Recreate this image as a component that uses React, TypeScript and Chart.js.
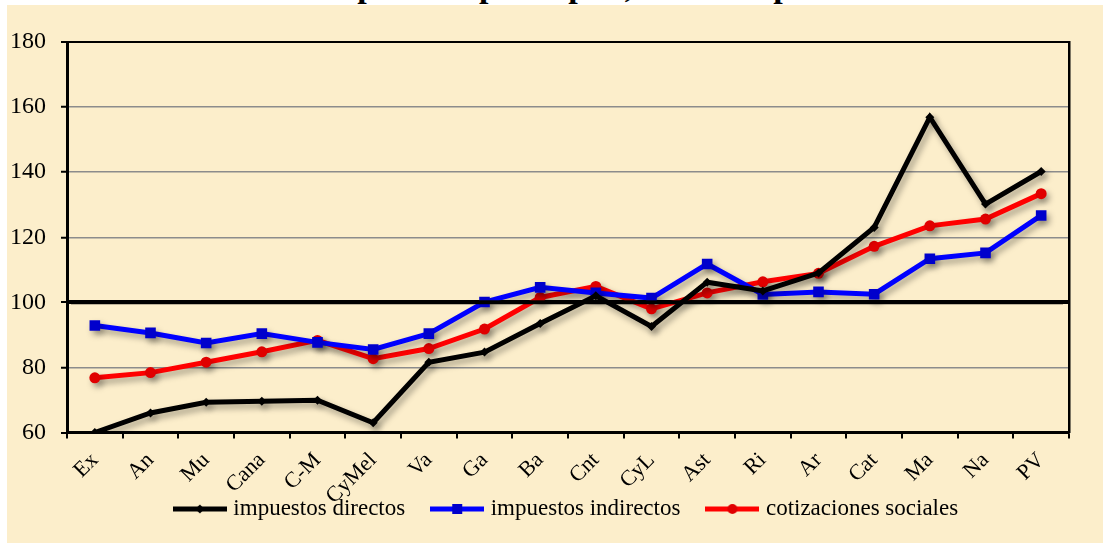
import { useEffect, useRef } from "react";
import { Chart, registerables } from "chart.js";
Chart.register(...registerables);

const categories = ["Ex", "An", "Mu", "Cana", "C-M", "CyMel", "Va", "Ga", "Ba", "Cnt", "CyL", "Ast", "Ri", "Ar", "Cat", "Ma", "Na", "PV"];
const impuestosDirectos = [60, 66, 69.3, 69.6, 69.9, 63, 81.6, 84.7, 93.5, 102, 92.6, 106.2, 103.5, 109, 123, 156.9, 130.2, 140.2];
const impuestosIndirectos = [92.9, 90.6, 87.5, 90.4, 87.7, 85.5, 90.4, 100.1, 104.6, 102.9, 101.3, 111.8, 102.4, 103.2, 102.5, 113.4, 115.2, 126.7];
const cotizacionesSociales = [76.8, 78.4, 81.6, 84.8, 88.3, 82.7, 85.8, 91.8, 101.5, 104.9, 98, 102.9, 106.3, 108.9, 117.2, 123.5, 125.6, 133.4];
const seriesNames = ["impuestos directos", "impuestos indirectos", "cotizaciones sociales"];
const yMin = 60;
const yMax = 180;
const yStep = 20;
const referenceValue = 100;
const titleText = "Recaudación impositiva per cápita, índice España = 100";

const FONT = "'Liberation Serif', 'Times New Roman', serif";

function legendImage(lineColor: string, markerColor: string, marker: string) {
  const c = document.createElement("canvas");
  c.width = 54;
  c.height = 14;
  const g = c.getContext("2d")!;
  g.strokeStyle = lineColor;
  g.lineWidth = 5;
  g.beginPath();
  g.moveTo(0, 7);
  g.lineTo(54, 7);
  g.stroke();
  g.fillStyle = markerColor;
  if (marker === "rect") {
    g.fillRect(27 - 5, 7 - 5, 10, 10);
  } else if (marker === "circle") {
    g.beginPath();
    g.arc(27, 7, 5, 0, Math.PI * 2);
    g.fill();
  } else {
    g.beginPath();
    g.moveTo(27, 7 - 4.5);
    g.lineTo(27 + 4.5, 7);
    g.lineTo(27, 7 + 4.5);
    g.lineTo(27 - 4.5, 7);
    g.closePath();
    g.fill();
  }
  return c;
}

const noClip = (scale: any) => {
  scale._computeLabelArea = () => null;
};

export default function App() {
  const ref = useRef<HTMLCanvasElement | null>(null);

  useEffect(() => {
    if (!ref.current) return;
    const images = [
      legendImage("#000000", "#000000", "diamond"),
      legendImage("#0000FF", "#0000CC", "rect"),
      legendImage("#FF0000", "#E00000", "circle"),
    ];

    const shadowPlugin = {
      id: "shadowPlugin",
      beforeDatasetsDraw(chart: any) {
        const ctx = chart.ctx;
        ctx.save();
        ctx.shadowColor = "rgba(0,0,0,0.35)";
        ctx.shadowBlur = 6;
        ctx.shadowOffsetX = 3;
        ctx.shadowOffsetY = 4;
      },
      afterDatasetsDraw(chart: any) {
        chart.ctx.restore();
      },
    };

    const refLinePlugin = {
      id: "refLinePlugin",
      afterDatasetsDraw(chart: any) {
        const ctx = chart.ctx;
        const y = chart.scales.y.getPixelForValue(referenceValue);
        const { left, right } = chart.chartArea;
        ctx.save();
        ctx.strokeStyle = "#000";
        ctx.lineWidth = 4;
        ctx.beginPath();
        ctx.moveTo(left + 4, y);
        ctx.lineTo(right - 6, y);
        ctx.stroke();
        ctx.restore();
      },
    };

    const gridColor = (v: number) => (v === referenceValue || v === yMax || v === yMin ? "#000000" : "#8c8c8c");
    const gridWidth = (v: number) => (v === referenceValue ? 4 : v === yMax || v === yMin ? 2 : 1.5);

    const chart = new Chart(ref.current, {
      type: "line",
      data: {
        labels: categories,
        datasets: [
          {
            label: seriesNames[0],
            data: impuestosDirectos,
            borderColor: "#000000",
            backgroundColor: "#000000",
            pointBackgroundColor: "#000000",
            pointBorderColor: "#000000",
            borderWidth: 5,
            pointStyle: "rectRot",
            pointRadius: 4.5,
            pointBorderWidth: 0,
            tension: 0,
          },
          {
            label: seriesNames[1],
            data: impuestosIndirectos,
            borderColor: "#0000FF",
            backgroundColor: "#0000CC",
            pointBackgroundColor: "#0000CC",
            pointBorderColor: "#0000CC",
            borderWidth: 5,
            pointStyle: "rect",
            pointRadius: 7.5,
            pointBorderWidth: 0,
            tension: 0,
          },
          {
            label: seriesNames[2],
            data: cotizacionesSociales,
            borderColor: "#FF0000",
            backgroundColor: "#E00000",
            pointBackgroundColor: "#E00000",
            pointBorderColor: "#E00000",
            borderWidth: 5,
            pointStyle: "circle",
            pointRadius: 5.5,
            pointBorderWidth: 0,
            tension: 0,
          },
        ],
      },
      options: {
        animation: false,
        responsive: false,
        maintainAspectRatio: false,
        layout: { padding: { top: 37, left: 60, right: 34, bottom: 12.5 } },
        plugins: {
          tooltip: { enabled: false },
          legend: {
            display: true,
            position: "bottom",
            labels: {
              usePointStyle: true,
              pointStyleWidth: 44,
              boxHeight: 14,
              padding: 30,
              color: "#000",
              font: { family: FONT, size: 23 },
              generateLabels(chart: any) {
                const base = (Chart as any).defaults.plugins.legend.labels.generateLabels(chart);
                return base.map((l: any, i: number) => ({ ...l, pointStyle: images[i] }));
              },
            },
          },
        },
        scales: {
          x: {
            offset: true,
            afterFit(scale: any) {
              scale.height = 35;
              noClip(scale);
            },
            grid: {
              display: true,
              drawOnChartArea: false,
              offset: true,
              tickLength: 6,
              color: "#000",
              lineWidth: 2,
            },
            border: { display: true, color: "#000", width: 2.5 },
            ticks: {
              autoSkip: false,
              maxRotation: 45,
              minRotation: 45,
              padding: 9,
              color: "#000",
              font: { family: FONT, size: 22 },
            },
          },
          y: {
            min: yMin,
            max: yMax,
            afterFit(scale: any) {
              scale.width = 0;
              noClip(scale);
            },
            grid: {
              color: (c: any) => gridColor(c.tick.value),
              lineWidth: (c: any) => gridWidth(c.tick.value),
              tickColor: "#000",
              tickWidth: 2,
              tickLength: 6,
            },
            border: { display: true, color: "#000", width: 3 },
            ticks: {
              stepSize: yStep,
              padding: 15,
              color: "#000",
              font: { family: FONT, size: 24 },
            },
          },
          y2: {
            type: "linear",
            position: "right",
            min: yMin,
            max: yMax,
            afterFit(scale: any) {
              scale.width = 0;
            },
            grid: { display: false },
            ticks: { display: false },
            border: { display: true, color: "#000", width: 2.5 },
          },
        },
      },
      plugins: [shadowPlugin, refLinePlugin],
    } as any);

    return () => chart.destroy();
  }, []);

  return (
    <div>
      <div
        style={{
          position: "absolute",
          left: 124,
          top: -31.5,
          fontFamily: FONT,
          fontWeight: "bold",
          fontSize: 34,
          lineHeight: "34px",
          whiteSpace: "nowrap",
          color: "#000",
          zIndex: 0,
        }}
      >
        {titleText}
      </div>
      <div
        style={{
          position: "absolute",
          left: 7,
          top: 5,
          width: 1096,
          height: 538,
          background: "#FCEECB",
          zIndex: 1,
        }}
      >
        <canvas ref={ref} width={1096} height={538} style={{ width: 1096, height: 538, display: "block" }} />
      </div>
    </div>
  );
}
